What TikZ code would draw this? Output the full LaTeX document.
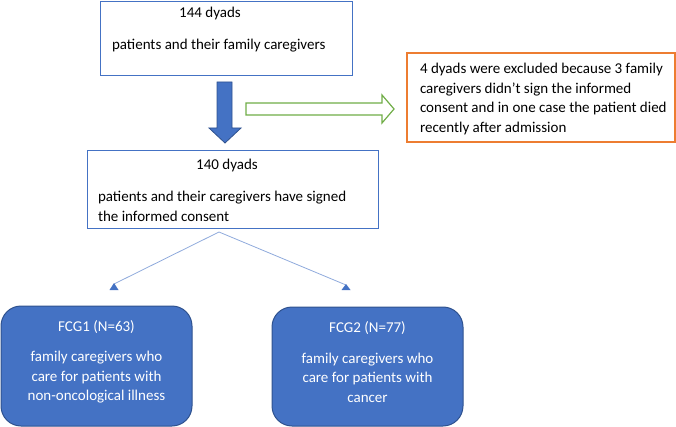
\documentclass[tikz,border=0pt]{standalone}
\usepackage{fontspec}
\setmainfont{Carlito}
\definecolor{obox}{HTML}{4472C4}
\definecolor{odark}{HTML}{2F528F}
\definecolor{oline}{HTML}{8FAADC}
\definecolor{ogreen}{HTML}{70AD47}
\definecolor{oorange}{HTML}{ED7D31}
\begin{document}
\begin{tikzpicture}[x=1pt,y=-1pt,
  every node/.style={inner sep=0pt,outer sep=0pt,font=\fontsize{15}{19.5}\selectfont},
  framebox/.style={draw=obox,line width=1pt,rectangle,anchor=north west},
  exbox/.style={draw=oorange,line width=1.2pt,rectangle,anchor=north west},
  groupbox/.style={draw=odark,fill=obox,line width=1pt,rounded corners=20pt,rectangle,anchor=north west},
  wtext/.style={text=white},
  thinline/.style={draw=oline,line width=0.8pt},
  tipfill/.style={fill=obox}]
\useasboundingbox (0,0) rectangle (676,427);
% boxes
\node[framebox,minimum width=252pt,minimum height=74pt] (top) at (100,2) {};
\node[framebox,minimum width=291pt,minimum height=78pt] (mid) at (87,151) {};
\node[exbox,minimum width=268pt,minimum height=89pt] (ex) at (407,53) {};
\node[groupbox,minimum width=191pt,minimum height=120pt] (g1) at (1,306) {};
\node[groupbox,minimum width=191pt,minimum height=119pt] (g2) at (272,307) {};
% texts
\node[anchor=mid] (t1) at (210,15.5) {144 dyads};
\node[anchor=mid west] (t2) at (112,47.5) {patients and their family caregivers};
\node[anchor=mid] (m1) at (227,167.5) {140 dyads};
\node[anchor=north west,align=left] (m2) at (98,191.5) {patients and their caregivers have signed\\the informed consent};
\node[anchor=north west,align=left] (e1) at (420,63.5) {4 dyads were excluded because 3 family\\caregivers didn’t sign the informed\\consent and in one case the patient died\\recently after admission};
\node[anchor=mid,wtext] (g1a) at (96.5,329) {FCG1 (N=63)};
\node[anchor=north,wtext,align=center] (g1b) at (96.5,351.5) {family caregivers who\\care for patients with\\non-oncological illness};
\node[anchor=mid,wtext] (g2a) at (367.5,330) {FCG2 (N=77)};
\node[anchor=north,wtext,align=center] (g2b) at (367.5,353) {family caregivers who\\care for patients with\\cancer};
% blue block arrow
\draw[fill=obox,draw=odark,line width=0.8pt] (217,82) -- (232,82) -- (232,128) -- (241,128) -- (225,143) -- (209,128) -- (217,128) -- cycle;
% green outline arrow
\draw[fill=white,draw=ogreen,line width=1.2pt] (246,103) -- (382,103) -- (382,95) -- (394,109) -- (382,123) -- (382,115) -- (246,115) -- cycle;
% split connectors
\coordinate (split) at (219,232);
\coordinate (lt) at (114,284);
\coordinate (rt) at (346,285);
\draw[thinline] (split) -- (lt);
\draw[thinline] (split) -- (rt);
\fill[tipfill] (lt) ++(0,-1) -- ++(4.5,7) -- ++(-9,0) -- cycle;
\fill[tipfill] (rt) ++(0,-1) -- ++(4.5,6) -- ++(-9,0) -- cycle;
\end{tikzpicture}
\end{document}
